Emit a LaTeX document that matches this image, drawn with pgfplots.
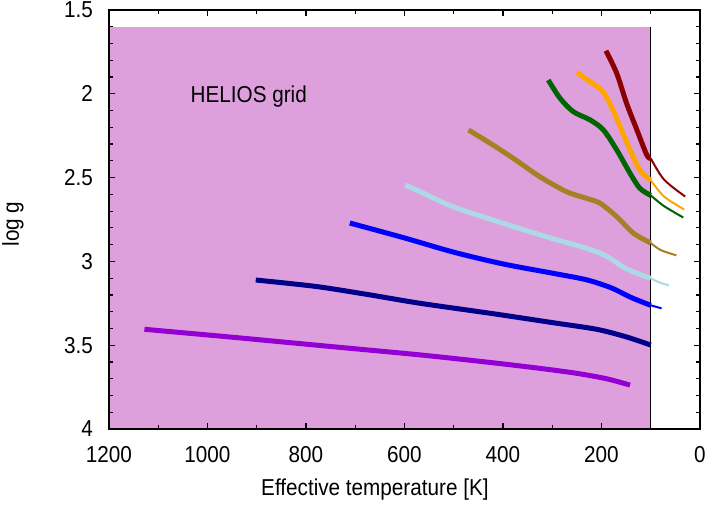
\documentclass[border=0pt]{standalone}
\usepackage{pgfplots}
\pgfplotsset{compat=1.18}
\usepackage{fontspec}
\setmainfont{Liberation Sans}[FakeStretch=0.9]
\definecolor{plumfill}{RGB}{221,160,221}
\definecolor{cviolet}{RGB}{148,0,211}
\definecolor{cnavy}{RGB}{0,0,139}
\definecolor{cblue}{RGB}{0,0,255}
\definecolor{clight}{RGB}{173,216,230}
\definecolor{cbrown}{RGB}{168,128,36}
\definecolor{cgreen}{RGB}{0,100,0}
\definecolor{corange}{RGB}{255,165,0}
\definecolor{cdred}{RGB}{139,0,0}
\begin{document}
\begin{tikzpicture}
\path[use as bounding box] (-54.5pt,-38pt) rectangle (300pt,214.5pt);
\begin{axis}[
  scale only axis,
  width=295.5pt, height=209.5pt,
  at={(0,0)}, anchor=south west,
  x dir=reverse, y dir=reverse,
  xmin=0, xmax=1200, ymin=1.5, ymax=4,
  xtick={0,200,...,1200},
  ytick={1.5,2,2.5,3,3.5,4},
  minor x tick num=1,
  minor y tick num=4,
  tick align=inside,
  major tick length=3pt,
  minor tick length=1.8pt,
  every tick/.style={black, line width=0.6pt},
  axis line style={line width=1pt},
  axis on top,
  font=\fontsize{11.5}{13.5}\selectfont,
  /pgf/number format/1000 sep={},
  /pgf/number format/assume math mode=true,
  xticklabel style={yshift=-5pt},
  yticklabel style={xshift=-4.5pt},
  xlabel={Effective temperature [K]},
  ylabel={log g},
  every axis x label/.style={at={(rel axis cs:0.45,0)}, anchor=base, yshift=-33pt},
  every axis y label/.style={at={(axis description cs:-0.1624,0.489)}, anchor=center, rotate=90},
]
\addplot[fill=plumfill, draw=none] coordinates {(100,1.6) (1200,1.6) (1200,4) (100,4)} -- cycle;
\addplot[black, line width=0.6pt] coordinates {(100,1.6) (100,4)};

% thick parts (inside grid)
\addplot[cviolet, line width=2.5pt, smooth] coordinates {(1128,3.405) (951,3.452) (749,3.508) (568,3.558) (420,3.605) (320,3.64) (250,3.668) (190,3.7) (142,3.738)};
\addplot[cnavy, line width=2.5pt, smooth] coordinates {(902,3.111) (781,3.149) (680,3.195) (568,3.25) (420,3.312) (300,3.365) (210,3.405) (150,3.45) (100,3.499)};
\addplot[cblue, line width=2.5pt, smooth] coordinates {(711,2.771) (600,2.86) (500,2.945) (400,3.015) (300,3.07) (230,3.11) (180,3.158) (140,3.215) (100,3.262)};
\addplot[clight, line width=2.5pt, smooth] coordinates {(599,2.544) (568,2.584) (501,2.674) (399,2.773) (298,2.865) (230,2.922) (189,2.97) (149,3.045) (100,3.101)};
\addplot[cbrown, line width=2.5pt, smooth] coordinates {(470,2.216) (426,2.295) (379,2.385) (325,2.495) (271,2.584) (230,2.624) (203,2.653) (169,2.733) (135,2.832) (100,2.89)};
\addplot[cgreen, line width=2.5pt, smooth] coordinates {(308,1.918) (284,2.027) (257,2.107) (223,2.156) (196,2.216) (169,2.335) (142,2.474) (122,2.564) (100,2.606)};
\addplot[corange, line width=2.5pt, smooth] coordinates {(250,1.872) (223,1.928) (200,1.977) (183,2.057) (162,2.196) (142,2.335) (122,2.455) (100,2.516)};
\addplot[cdred, line width=2.5pt, smooth] coordinates {(191,1.743) (169,1.878) (149,2.057) (128,2.216) (108,2.365) (100,2.385)};

% thin parts (outside grid)
\addplot[cblue, line width=1pt, smooth] coordinates {(100,3.262) (78,3.28)};
\addplot[clight, line width=1pt, smooth] coordinates {(100,3.101) (83,3.125) (63,3.143)};
\addplot[cbrown, line width=1pt, smooth] coordinates {(100,2.89) (80,2.932) (48,2.964)};
\addplot[cgreen, line width=1pt, smooth] coordinates {(100,2.606) (73,2.67) (34,2.738)};
\addplot[corange, line width=1pt, smooth] coordinates {(100,2.516) (73,2.613) (32,2.69)};
\addplot[cdred, line width=1pt, smooth] coordinates {(100,2.385) (73,2.512) (30,2.613)};

\node[anchor=base west, inner sep=0pt] at (axis cs:1035,2.049) {HELIOS grid};
\end{axis}
\end{tikzpicture}
\end{document}
